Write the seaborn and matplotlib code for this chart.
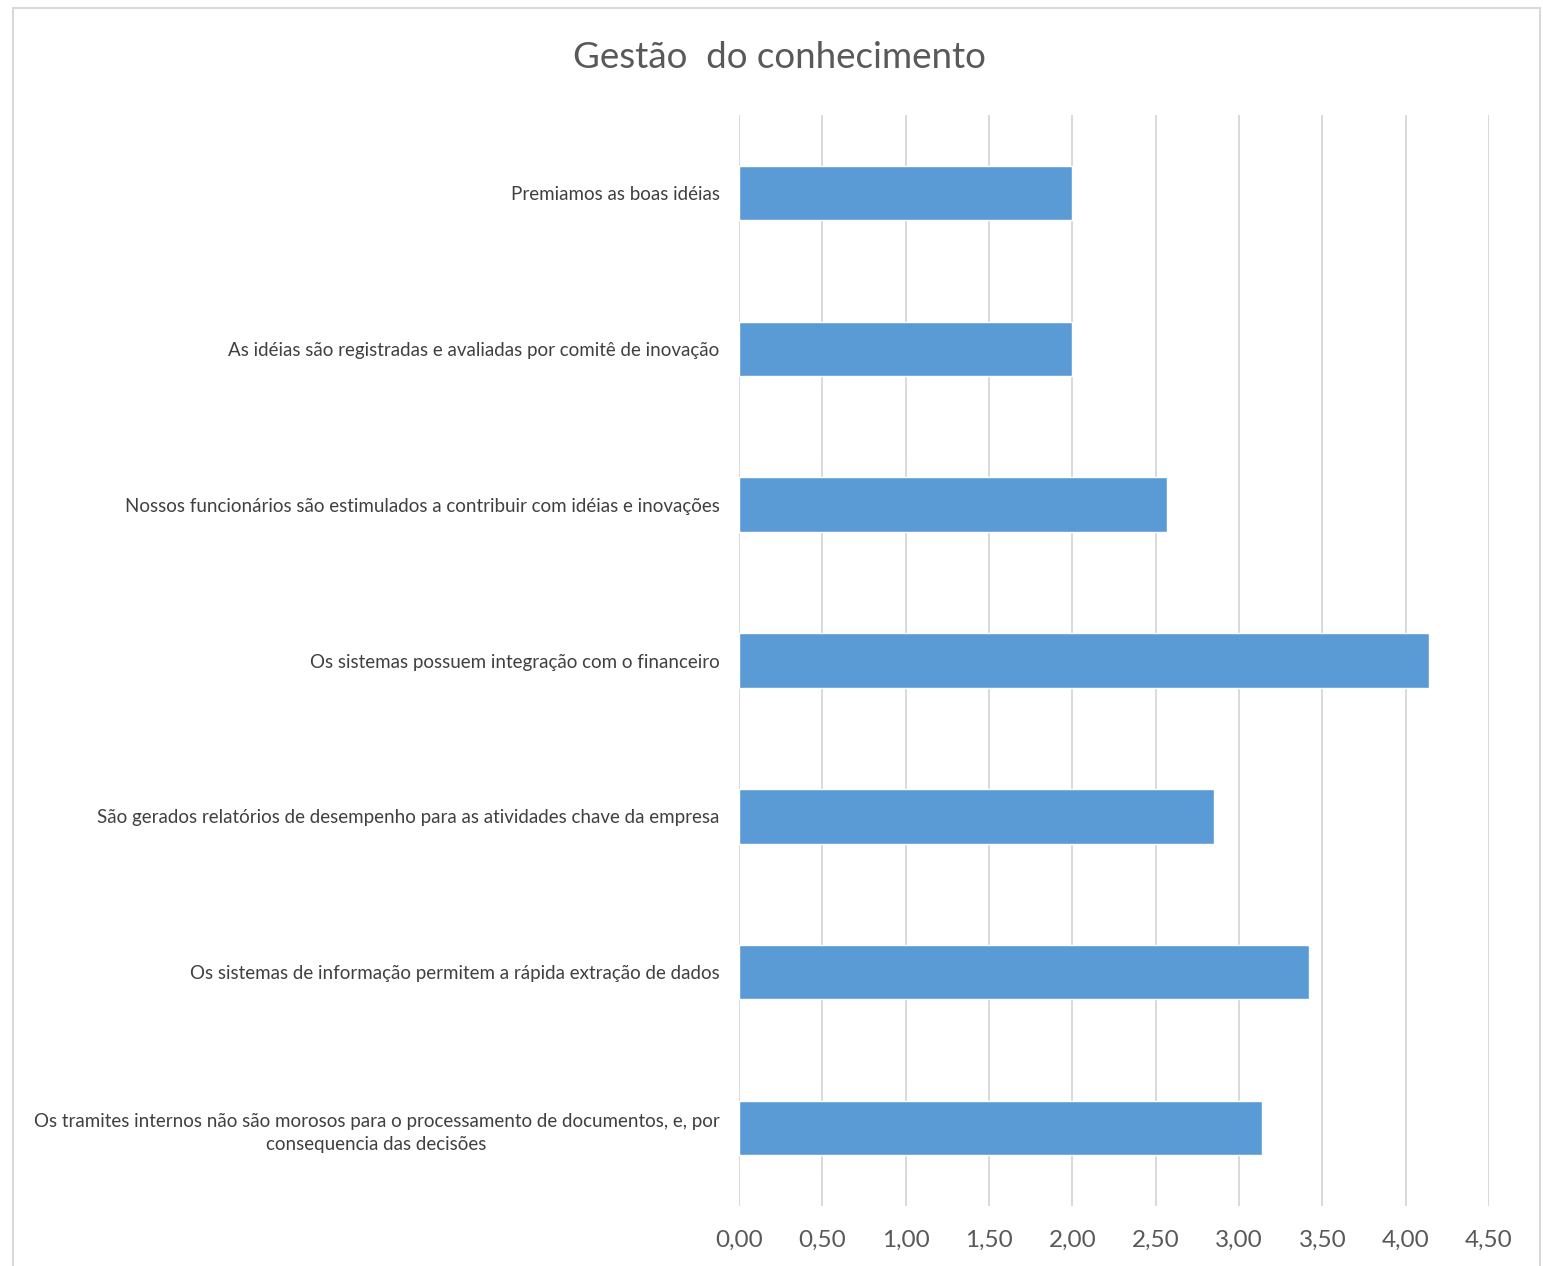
import matplotlib
matplotlib.use("Agg")
import matplotlib.pyplot as plt
import seaborn as sns
import pandas as pd
from matplotlib.patches import Rectangle

categories = [
    "Premiamos as boas idéias",
    "As idéias são registradas e avaliadas por comitê de inovação",
    "Nossos funcionários são estimulados a contribuir com idéias e inovações",
    "Os sistemas possuem integração com o financeiro",
    "São gerados relatórios de desempenho para as atividades chave da empresa",
    "Os sistemas de informação permitem a rápida extração de dados",
    "Os tramites internos não são morosos para o processamento de documentos, e, por\nconsequencia das decisões",
]
values = [2.00, 2.00, 2.57, 4.14, 2.85, 3.42, 3.14]
xticks = [0, 0.5, 1, 1.5, 2, 2.5, 3, 3.5, 4, 4.5]
xtick_labels = ["0,00", "0,50", "1,00", "1,50", "2,00", "2,50", "3,00", "3,50", "4,00", "4,50"]
title = "Gestão  do conhecimento"

sns.set_theme(style="white")
plt.rcParams["font.family"] = ["Lato", "DejaVu Sans"]

df = pd.DataFrame({"cat": categories, "val": values})

fig = plt.figure(figsize=(15.43, 12.66), dpi=100)
ax = fig.add_axes([739/1543, 1 - 1206/1266, (1489-739)/1543, (1206-115)/1266])

sns.barplot(data=df, y="cat", x="val", orient="h", color="#5B9BD5",
            width=0.35, saturation=1, ax=ax, zorder=3)

ax.set_xlim(0, 4.5)
ax.set_ylim(6.5, -0.5)
ax.set_xticks(xticks)
ax.set_xticklabels(xtick_labels, fontsize=17.5, color="#595959")
ax.tick_params(axis="x", length=0, pad=17)
ax.tick_params(axis="y", length=0, pad=14, labelsize=13.5, labelcolor="#404040")
for lbl in ax.get_yticklabels():
    lbl.set_multialignment("center")
    lbl.set_linespacing(1.45)
ax.set_xlabel("")
ax.set_ylabel("")
ax.grid(axis="x", color="#d9d9d9", linewidth=1.4, zorder=0)
ax.grid(axis="y", visible=False)
for s in ax.spines.values():
    s.set_visible(False)

fig.text(779/1543, 1 - 58/1266, title, ha="center", va="center",
         fontsize=26.5, color="#595959")

fig.patches.append(Rectangle((13/1543, -0.01), (1540-13)/1543, 1.01 - 8/1266,
                             transform=fig.transFigure, fill=False,
                             edgecolor="#d9d9d9", linewidth=1.5, zorder=0))

fig.savefig("out.png", dpi=100, facecolor="white")
